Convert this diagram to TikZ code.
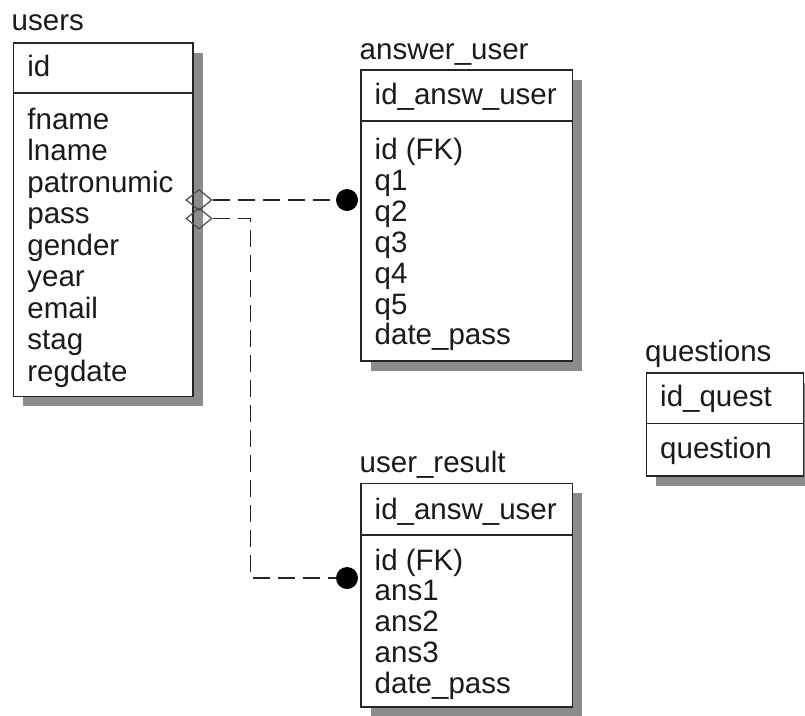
\documentclass[tikz,border=0pt]{standalone}
\usepackage{fontspec}
\setmainfont{Liberation Sans}
\usetikzlibrary{shapes.geometric,shadows}
\definecolor{ink}{HTML}{1A1A1A}
\definecolor{edge}{HTML}{262626}
\definecolor{shadowgray}{HTML}{8C8C8C}
\begin{document}
\begin{tikzpicture}[x=1pt,y=-1pt,
  entity/.style={draw=edge, line width=1.5pt, fill=white, anchor=north west, inner sep=0pt,
    drop shadow={shadow xshift=10pt, shadow yshift=-10pt, fill=shadowgray, opacity=1}},
  sepline/.style={draw=edge, line width=1.5pt},
  lbl/.style={anchor=base west, inner sep=0pt, text=ink, font=\fontsize{29.5}{31}\selectfont},
  rel/.style={draw=edge, line width=1.4pt, dash pattern=on 17pt off 8pt},
  dotend/.style={circle, fill=black, inner sep=0pt, minimum size=22pt},
  diam/.style={diamond, draw=black!70, line width=1.2pt, inner sep=0pt, minimum width=26pt, minimum height=21pt}
]
\useasboundingbox (0,0) rectangle (805,715);

% ---------- users ----------
\node[entity, minimum width=179.3pt, minimum height=353.7pt] (users) at (12.7,42) {};
\draw[sepline] ([yshift=-51pt]users.north west) -- ([yshift=-51pt]users.north east);
\node[lbl] (users-title) at (11.5,30.7) {users};
\node[lbl] (users-key) at (27.2,76) {id};
\foreach \t [count=\i from 0] in {fname,lname,patronumic,pass,gender,year,email,stag,regdate}
  \node[lbl] (users-a\i) at (27.2,129.3+31.5*\i) {\t};

% ---------- answer_user ----------
\node[entity, minimum width=211.7pt, minimum height=290.7pt] (answ) at (360,69.3) {};
\draw[sepline] ([yshift=-51.7pt]answ.north west) -- ([yshift=-51.7pt]answ.north east);
\node[lbl] (answ-title) at (359.5,59.3) {answer\_user};
\node[lbl] (answ-key) at (374.5,104) {id\_answ\_user};
\foreach \t [count=\i from 0] in {id (FK),q1,q2,q3,q4,q5,date\_pass}
  \node[lbl] (answ-a\i) at (374.5,159.5+30.9*\i) {\t};

% ---------- user_result ----------
\node[entity, minimum width=211.7pt, minimum height=223.3pt] (res) at (360,482.7) {};
\draw[sepline] ([yshift=-52.5pt]res.north west) -- ([yshift=-52.5pt]res.north east);
\node[lbl] (res-title) at (359.5,472.3) {user\_result};
\node[lbl] (res-key) at (374.5,519) {id\_answ\_user};
\foreach \t [count=\i from 0] in {id (FK),ans1,ans2,ans3,date\_pass}
  \node[lbl] (res-a\i) at (374.5,570+30.9*\i) {\t};

% ---------- questions ----------
\node[entity, minimum width=157pt, minimum height=102.7pt] (quest) at (645.7,372.3) {};
\draw[sepline] ([yshift=-51pt]quest.north west) -- ([yshift=-51pt]quest.north east);
\node[lbl] (quest-title) at (645,361.7) {questions};
\node[lbl] (quest-key) at (660,406) {id\_quest};
\node[lbl] (quest-a0) at (660,458.3) {question};

% ---------- relationships ----------
\node[diam] (d1) at (199,200) {};
\node[diam] (d2) at (199,218.5) {};
\node[dotend] (dotA) at (347,200) {};
\node[dotend] (dotR) at (347,578) {};
\coordinate (bend) at (250.7,578);
\draw[rel] (d1.east) -- (dotA.west);
\draw[rel] (d2.east) -| (bend) -- (dotR.west);
\end{tikzpicture}
\end{document}
